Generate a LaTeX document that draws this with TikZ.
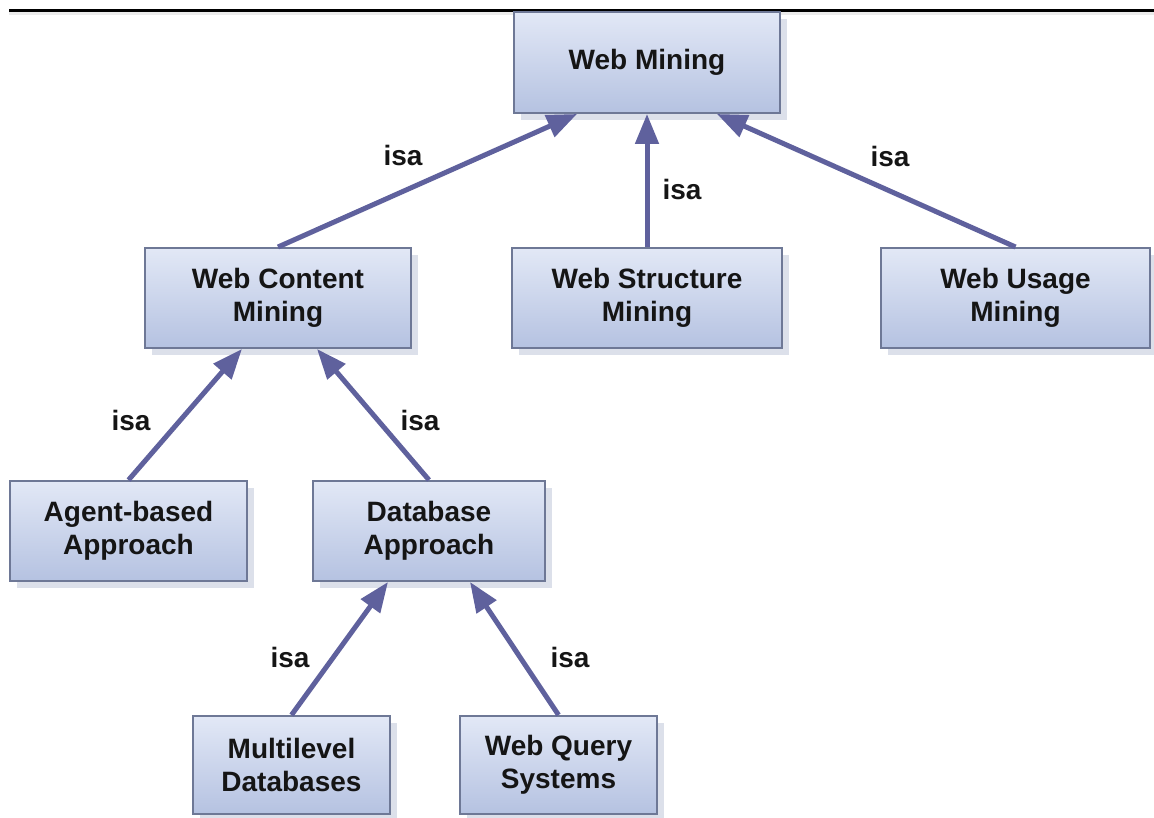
\documentclass[tikz,border=0pt]{standalone}
\usepackage{fontspec}
\setmainfont{Liberation Sans}
\usetikzlibrary{arrows.meta,shadows,calc}

\definecolor{boxtop}{HTML}{E2E8F6}
\definecolor{boxbottom}{HTML}{B5C2E1}
\definecolor{boxline}{HTML}{6E7896}
\definecolor{boxshadow}{HTML}{DCE0EA}
\definecolor{isacol}{HTML}{5F619D}
\definecolor{inktext}{HTML}{151515}

\tikzset{
  concept/.style={
    rectangle, draw=boxline, line width=2pt,
    top color=boxtop, bottom color=boxbottom,
    drop shadow={shadow xshift=7pt, shadow yshift=-7pt, fill=boxshadow, opacity=1},
    text=inktext, align=center, inner sep=0pt,
    font=\fontsize{28}{33}\selectfont\bfseries
  },
  isa/.style={
    draw=isacol, line width=5pt,
    -{Triangle[length=30pt, width=23pt]}
  },
  isalabel/.style={
    text=inktext, inner sep=0pt,
    font=\fontsize{28}{33}\selectfont\bfseries
  }
}

\begin{document}
\begin{tikzpicture}[x=1pt,y=-1pt]
  \useasboundingbox (0,0) rectangle (1154,818);

  % header rule
  \draw[line width=3pt, black!8] (9,14) -- (1154,14);
  \draw[line width=2.5pt, black] (9,10.5) -- (1154,10.5);

  % concepts
  \node[concept, minimum width=266pt, minimum height=101pt] (wm)  at (647,62.5) {Web Mining};
  \node[concept, minimum width=266pt, minimum height=100pt] (wcm) at (278,298) {Web Content\\Mining};
  \node[concept, minimum width=270pt, minimum height=100pt] (wsm) at (647,298) {Web Structure\\Mining};
  \node[concept, minimum width=269pt, minimum height=100pt] (wum) at (1015.5,298) {Web Usage\\Mining};
  \node[concept, minimum width=237pt, minimum height=100pt] (agent) at (128.5,531) {Agent-based\\Approach};
  \node[concept, minimum width=232pt, minimum height=100pt] (db)    at (429,531) {Database\\Approach};
  \node[concept, minimum width=197pt, minimum height=98pt] (mldb)  at (291.5,765) {Multilevel\\Databases};
  \node[concept, minimum width=197pt, minimum height=98pt] (wqs)   at (558.5,765) {Web Query\\Systems};

  % is-a relations
  \draw[isa] (wcm.north) -- ($(wm.south)+(-70,0)$);
  \draw[isa] (wsm.north) -- (wm.south);
  \draw[isa] (wum.north) -- ($(wm.south)+(70,0)$);
  \draw[isa] (agent.north) -- ($(wcm.south)+(-36,0)$);
  \draw[isa] (db.north) -- ($(wcm.south)+(39,0)$);
  \draw[isa] (mldb.north) -- ($(db.south)+(-41,0)$);
  \draw[isa] (wqs.north) -- ($(db.south)+(41,0)$);

  % relation labels
  \node[isalabel] (l1) at (403,155) {isa};
  \node[isalabel] (l2) at (682,189) {isa};
  \node[isalabel] (l3) at (890,156) {isa};
  \node[isalabel] (l4) at (131,420) {isa};
  \node[isalabel] (l5) at (420,420) {isa};
  \node[isalabel] (l6) at (290,657) {isa};
  \node[isalabel] (l7) at (570,657) {isa};
\end{tikzpicture}
\end{document}
